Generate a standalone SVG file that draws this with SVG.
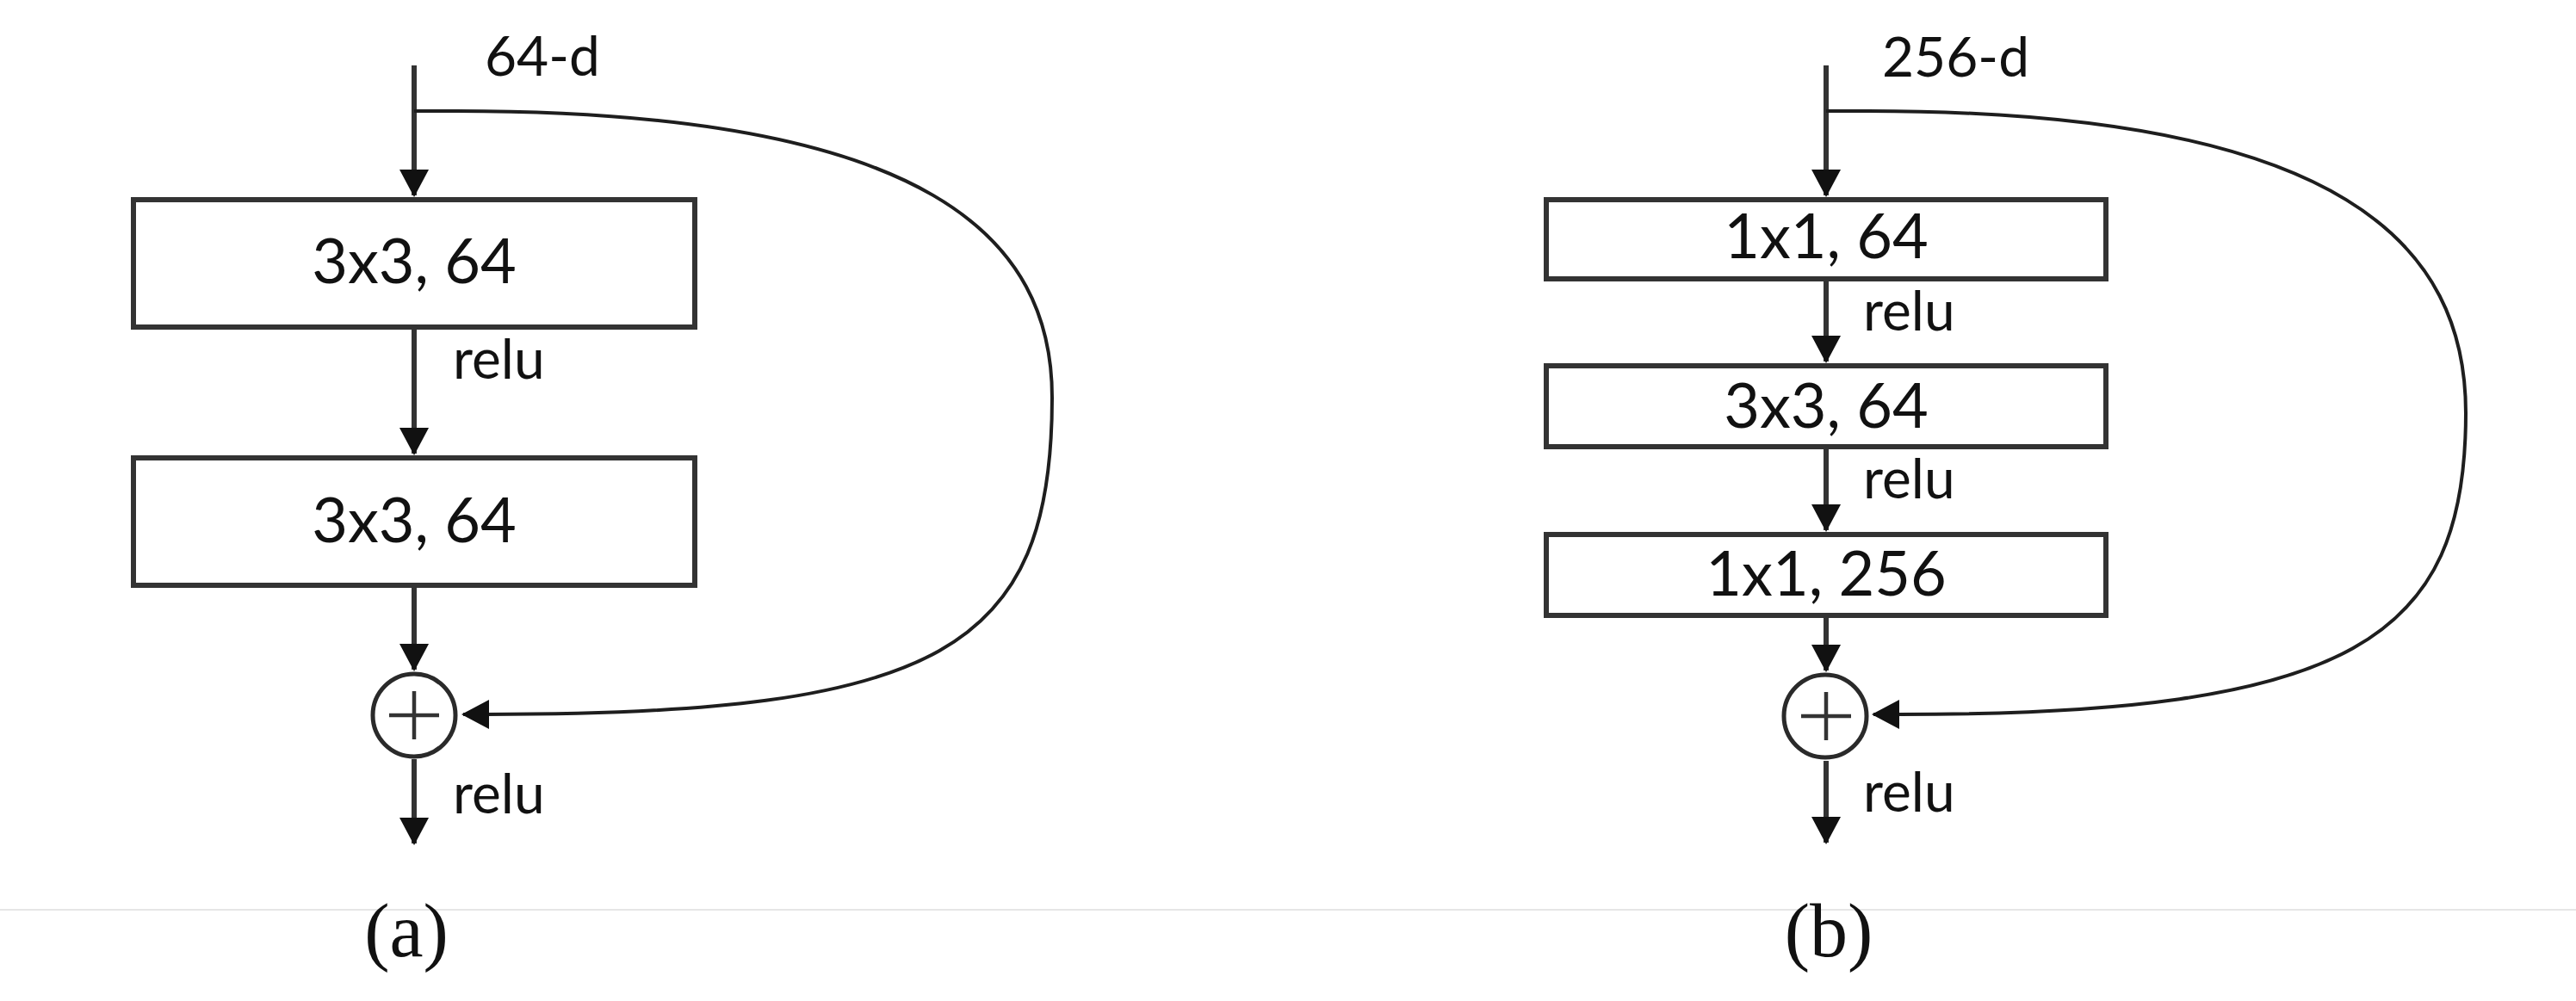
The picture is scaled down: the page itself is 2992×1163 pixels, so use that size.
<svg xmlns="http://www.w3.org/2000/svg" width="2992" height="1163" viewBox="0 0 2992 1163">
<style>
.box{fill:#ffffff;stroke:#333333;stroke-width:6}
.sum{fill:#ffffff;stroke:#2a2a2a;stroke-width:5}
.plus{stroke:#333333;stroke-width:4.5;fill:none}
.ln{fill:none;stroke:#333333;stroke-width:6}
.sc{fill:none;stroke:#1e1e1e;stroke-width:4}
.bt{font-family:Lato,"Liberation Sans",sans-serif;font-size:72px;fill:#111111;text-anchor:middle}
.lb{font-family:Lato,"Liberation Sans",sans-serif;font-size:64px;fill:#111111}
.cap{font-family:"Liberation Serif","Times New Roman",serif;font-size:88px;fill:#111111;text-anchor:middle}
</style>
<defs>
<marker id="ah" markerUnits="userSpaceOnUse" markerWidth="32" markerHeight="34" viewBox="0 0 32 34" refX="30" refY="17" orient="auto">
<path d="M0 0 L32 17 L0 34 Z" fill="#111111"/>
</marker>
</defs>
<rect x="0" y="0" width="2992" height="1163" fill="#ffffff"/>
<line x1="0" y1="1057" x2="2992" y2="1057" stroke="#e6e6e6" stroke-width="2"/>

<g id="connectors">
<line class="ln" x1="481" y1="76" x2="481" y2="227" marker-end="url(#ah)"/>
<line class="ln" x1="481" y1="383" x2="481" y2="527" marker-end="url(#ah)"/>
<line class="ln" x1="481" y1="683" x2="481" y2="778" marker-end="url(#ah)"/>
<line class="ln" x1="481" y1="882" x2="481" y2="980" marker-end="url(#ah)"/>
<path class="sc" d="M481 129 L530 129 C1084 129 1222 279 1222 462 C1222 756 1091 830 565 830 L538 830" marker-end="url(#ah)"/>

<line class="ln" x1="2121" y1="76" x2="2121" y2="227" marker-end="url(#ah)"/>
<line class="ln" x1="2121" y1="327" x2="2121" y2="420" marker-end="url(#ah)"/>
<line class="ln" x1="2121" y1="522" x2="2121" y2="616" marker-end="url(#ah)"/>
<line class="ln" x1="2121" y1="718" x2="2121" y2="779" marker-end="url(#ah)"/>
<line class="ln" x1="2121" y1="884" x2="2121" y2="979" marker-end="url(#ah)"/>
<path class="sc" d="M2121 129 L2170 129 C2725 129 2864 287 2864 480 C2864 742 2733 830 2207 830 L2176 830" marker-end="url(#ah)"/>

<text class="lb" x="563" y="88">64-d</text>
<text class="lb" x="526" y="440">relu</text>
<text class="lb" x="526" y="945">relu</text>
<text class="lb" x="2186" y="89">256-d</text>
<text class="lb" x="2164" y="384">relu</text>
<text class="lb" x="2164" y="579">relu</text>
<text class="lb" x="2164" y="943">relu</text>
</g>

<g id="a-conv1">
<rect class="box" x="155" y="232" width="652" height="148"/>
<text class="bt" x="481" y="329">3x3, 64</text>
</g>
<g id="a-conv2">
<rect class="box" x="155" y="532" width="652" height="148"/>
<text class="bt" x="481" y="630">3x3, 64</text>
</g>
<g id="a-sum">
<circle class="sum" cx="481" cy="831" r="48"/>
<path class="plus" d="M452 831 H510 M481 803 V859"/>
</g>
<g id="a-caption">
<text class="cap" x="472" y="1111">(a)</text>
</g>

<g id="b-conv1">
<rect class="box" x="1796" y="232" width="650" height="92"/>
<text class="bt" x="2121" y="300">1x1, 64</text>
</g>
<g id="b-conv2">
<rect class="box" x="1796" y="425" width="650" height="94"/>
<text class="bt" x="2121" y="497">3x3, 64</text>
</g>
<g id="b-conv3">
<rect class="box" x="1796" y="621" width="650" height="94"/>
<text class="bt" x="2121" y="692">1x1, 256</text>
</g>
<g id="b-sum">
<circle class="sum" cx="2120" cy="832" r="48"/>
<path class="plus" d="M2092 832 H2150 M2121 804 V860"/>
</g>
<g id="b-caption">
<text class="cap" x="2124" y="1111">(b)</text>
</g>
</svg>
